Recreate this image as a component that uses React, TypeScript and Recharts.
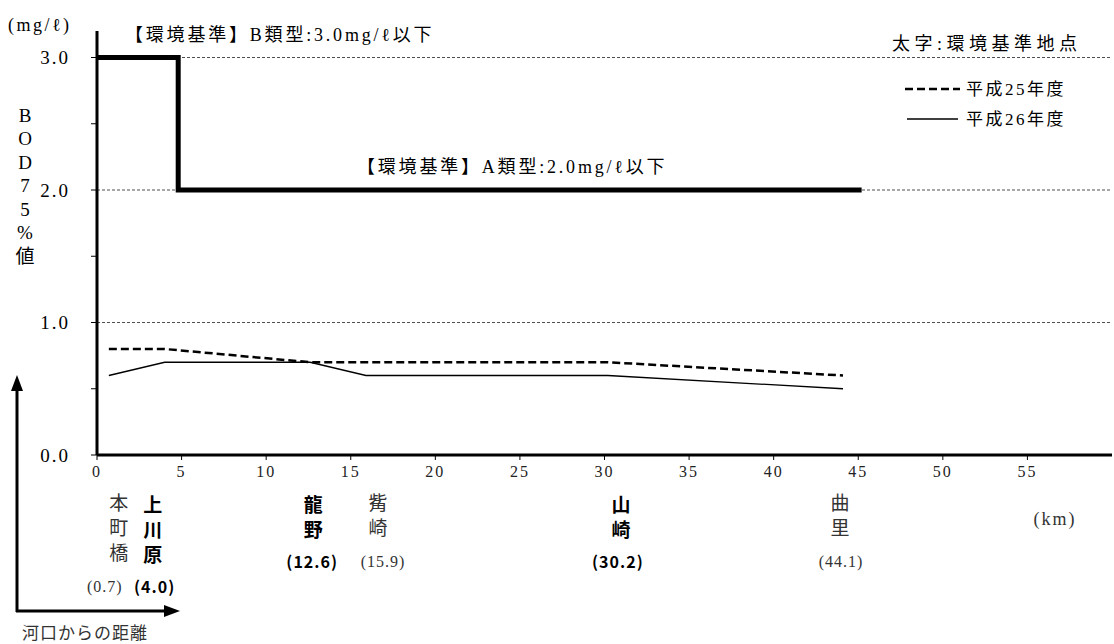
import React from "react";
import {
  ComposedChart,
  Line,
  XAxis,
  YAxis,
  ReferenceLine,
} from "recharts";

// 測定地点（河口からの距離 km）
const stationNames = ["本町橋", "上川原", "龍野", "觜崎", "山崎", "曲里"];
const stationKm = [0.7, 4.0, 12.6, 15.9, 30.2, 44.1];
const stationIsBase = [false, true, true, false, true, false]; // 太字 = 環境基準地点

// BOD75%値 (mg/ℓ)
const seriesNames = ["平成25年度", "平成26年度"];
const bodH25 = [0.8, 0.8, 0.7, 0.7, 0.7, 0.6];
const bodH26 = [0.6, 0.7, 0.7, 0.6, 0.6, 0.5];

// 環境基準（B類型 3.0 → A類型 2.0）
const standardKm = [0, 4.8, 4.8, 45.2];
const standardBod = [3.0, 3.0, 2.0, 2.0];

const xTicks = [0, 5, 10, 15, 20, 25, 30, 35, 40, 45, 50, 55];
const yTicks = [0, 0.5, 1.0, 1.5, 2.0, 2.5, 3.0];
const gridLevels = [1.0, 2.0, 3.0];
const yLabelChars = ["B", "O", "D", "7", "5", "%", "値"];

const h25Data = stationKm.map((km, i) => ({ km, v: bodH25[i] }));
const h26Data = stationKm.map((km, i) => ({ km, v: bodH26[i] }));
const standardData = standardKm.map((km, i) => ({ km, v: standardBod[i] }));

const SERIF = "'Liberation Serif', 'Noto Sans CJK JP', serif";
const GOTHIC = "'Noto Sans CJK JP', 'Liberation Sans', sans-serif";

const H25_DASH = "8 4";

// label nudges (px) so names don't collide, as in the original figure
const nameDx = [10, -12, 3, 12, 13, -3];
const kmDx = [-4, -10, 2, 17, 10, -2];

function StationTick({ x, y, payload }: any) {
  const i = stationKm.indexOf(payload.value);
  if (i < 0) return null;
  const bold = stationIsBase[i];
  const chars = Array.from(stationNames[i]);
  const top = y + 18;
  const color = bold ? "#000" : "#333";
  return (
    <g>
      {chars.map((c, k) => (
        <text
          key={k}
          x={x + nameDx[i]}
          y={top + k * 25}
          textAnchor="middle"
          dominantBaseline="central"
          fontSize={19}
          fontFamily={bold ? GOTHIC : SERIF}
          fontWeight={bold ? 700 : 400}
          fill={color}
        >
          {c}
        </text>
      ))}
      <text
        x={x + kmDx[i]}
        y={top + (chars.length - 1) * 25 + 33}
        textAnchor="middle"
        dominantBaseline="central"
        fontSize={16}
        fontFamily={bold ? GOTHIC : SERIF}
        fontWeight={bold ? 700 : 400}
        letterSpacing={1}
        fill={color}
      >
        {`(${stationKm[i].toFixed(1)})`}
      </text>
    </g>
  );
}

const bLabel = (p: any) => (
  <text
    x={p.viewBox.x + 28}
    y={p.viewBox.y - 23}
    dominantBaseline="central"
    fontSize={18}
    letterSpacing={2.8}
    fontFamily={SERIF}
    fill="#000"
  >
    【環境基準】B類型:3.0mg/ℓ以下
  </text>
);

const aLabel = (p: any) => (
  <text
    x={p.viewBox.x + 260}
    y={p.viewBox.y - 23}
    dominantBaseline="central"
    fontSize={18}
    letterSpacing={2.8}
    fontFamily={SERIF}
    fill="#000"
  >
    【環境基準】A類型:2.0mg/ℓ以下
  </text>
);

export default function App() {
  return (
    <div style={{ position: "absolute", left: 0, top: 0, width: 1114, height: 644, background: "#fff" }}>
      <ComposedChart
        width={1114}
        height={644}
        margin={{ top: 31, right: 2, left: 37, bottom: 39 }}
      >
        <XAxis
          type="number"
          dataKey="km"
          domain={[0, 60]}
          ticks={xTicks}
          interval={0}
          allowDataOverflow
          height={30}
          axisLine={{ stroke: "#000", strokeWidth: 3 }}
          tickLine={{ stroke: "#000" }}
          tickSize={5}
          tickMargin={6}
          tick={{ fill: "#222", fontSize: 16, fontFamily: SERIF, letterSpacing: 2 }}
        />
        <XAxis
          xAxisId="st"
          type="number"
          dataKey="km"
          domain={[0, 60]}
          ticks={stationKm}
          interval={0}
          allowDataOverflow
          height={120}
          axisLine={false}
          tickLine={false}
          tickSize={0}
          tickMargin={0}
          tick={<StationTick />}
        />
        <YAxis
          type="number"
          domain={[0, 3.2]}
          ticks={yTicks}
          interval={0}
          allowDataOverflow
          width={60}
          axisLine={{ stroke: "#000", strokeWidth: 3 }}
          tickLine={{ stroke: "#000" }}
          tickSize={6}
          tickMargin={21}
          tickFormatter={(v: number) => (Number.isInteger(v) ? v.toFixed(1) : "")}
          tick={{ fill: "#000", fontSize: 19, fontFamily: SERIF, letterSpacing: 2 }}
        />
        {gridLevels.map((lv) => (
          <ReferenceLine
            key={lv}
            y={lv}
            stroke="#222"
            strokeWidth={0.8}
            strokeDasharray="3 2"
            label={lv === 3 ? { content: bLabel } : lv === 2 ? { content: aLabel } : undefined}
          />
        ))}
        <Line
          data={standardData}
          dataKey="v"
          type="linear"
          stroke="#000"
          strokeWidth={5}
          strokeLinejoin="miter"
          dot={false}
          legendType="none"
          isAnimationActive={false}
        />
        <Line
          data={h25Data}
          dataKey="v"
          name={seriesNames[0]}
          type="linear"
          stroke="#000"
          strokeWidth={2.5}
          strokeDasharray={H25_DASH}
          dot={false}
          isAnimationActive={false}
        />
        <Line
          data={h26Data}
          dataKey="v"
          name={seriesNames[1]}
          type="linear"
          stroke="#000"
          strokeWidth={1.3}
          dot={false}
          isAnimationActive={false}
        />
      </ComposedChart>
      <svg
        width={1114}
        height={644}
        style={{ position: "absolute", left: 0, top: 0, pointerEvents: "none" }}
      >
        <text x={8} y={25} dominantBaseline="central" fontSize={18} letterSpacing={2.5} fontFamily={SERIF}>
          (mg/ℓ)
        </text>
        <text x={892} y={44} dominantBaseline="central" fontSize={18} letterSpacing={4.5} fontFamily={SERIF}>
          太字:環境基準地点
        </text>
        {/* 凡例 */}
        <line x1={905} y1={89} x2={960} y2={89} stroke="#000" strokeWidth={2.5} strokeDasharray={H25_DASH} />
        <text x={966} y={89} dominantBaseline="central" fontSize={17} letterSpacing={2.5} fontFamily={SERIF}>
          {seriesNames[0]}
        </text>
        <line x1={907} y1={119} x2={958} y2={119} stroke="#000" strokeWidth={1.3} />
        <text x={966} y={119} dominantBaseline="central" fontSize={17} letterSpacing={2.5} fontFamily={SERIF}>
          {seriesNames[1]}
        </text>
        {yLabelChars.map((c, k) => (
          <text
            key={k}
            x={25}
            y={115 + k * 23.5}
            textAnchor="middle"
            dominantBaseline="central"
            fontSize={19}
            fontFamily={SERIF}
          >
            {c}
          </text>
        ))}
        <line x1={17} y1={612} x2={17} y2={388} stroke="#000" strokeWidth={3} />
        <polygon points="17,375 11,391 23,391" fill="#000" />
        <line x1={16} y1={611} x2={166} y2={611} stroke="#000" strokeWidth={3} />
        <polygon points="180,611 164,605 164,617" fill="#000" />
        <text x={22} y={633} dominantBaseline="central" fontSize={17} letterSpacing={1} fontFamily={SERIF} fill="#333">
          河口からの距離
        </text>
        <text x={1055} y={519} textAnchor="middle" dominantBaseline="central" fontSize={18} letterSpacing={2} fontFamily={SERIF} fill="#333">
          (km)
        </text>
      </svg>
    </div>
  );
}
